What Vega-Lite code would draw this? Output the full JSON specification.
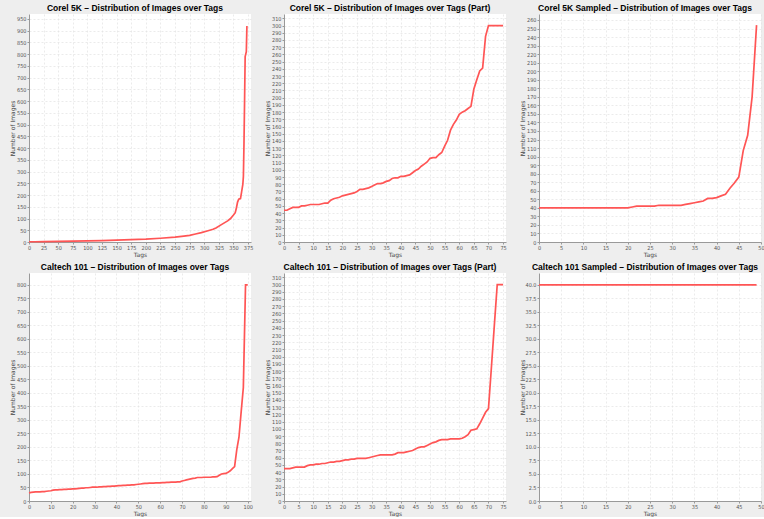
{
  "$schema": "https://vega.github.io/schema/vega-lite/v6.json",
  "background": "#eeeeee",
  "padding": {"left": 9, "top": 3, "right": 0, "bottom": 0},
  "config": {
    "view": {"fill": "white", "stroke": null},
    "font": "Liberation Sans",
    "title": {"font": "Liberation Sans", "fontSize": 8.5, "fontWeight": "bold", "color": "#000000", "offset": 2, "dx": -5},
    "axis": {
      "labelFont": "Liberation Sans Narrow, DejaVu Sans Condensed, Liberation Sans", "labelFontSize": 5.5, "labelColor": "#555555",
      "titleFont": "DejaVu Sans", "titleFontSize": 6, "titleFontWeight": "normal", "titleColor": "#444444",
      "domainColor": "#999999", "tickColor": "#999999", "tickSize": 2, "labelPadding": 1,
      "gridColor": "#e2e2e2", "gridDash": [2, 2], "gridWidth": 0.7,
      "labelFlush": false, "labelOverlap": false
    },
    "axisY": {"titlePadding": 2, "minExtent": 12, "maxExtent": 12},
    "axisX": {"titlePadding": 1},
    "line": {"color": "#ff5555", "strokeWidth": 1.7}
  },
  "datasets": {
    "corel": [
      {"tag": 0, "images": 1}, {"tag": 10, "images": 1}, {"tag": 25, "images": 2}, {"tag": 50, "images": 3},
      {"tag": 75, "images": 4}, {"tag": 100, "images": 5}, {"tag": 125, "images": 6}, {"tag": 150, "images": 8},
      {"tag": 175, "images": 10}, {"tag": 200, "images": 12}, {"tag": 225, "images": 16}, {"tag": 250, "images": 21},
      {"tag": 265, "images": 25}, {"tag": 275, "images": 28}, {"tag": 285, "images": 34}, {"tag": 295, "images": 40},
      {"tag": 305, "images": 47}, {"tag": 315, "images": 54}, {"tag": 320, "images": 60}, {"tag": 330, "images": 75},
      {"tag": 340, "images": 90}, {"tag": 345, "images": 100}, {"tag": 350, "images": 115}, {"tag": 353, "images": 125},
      {"tag": 355, "images": 145}, {"tag": 357, "images": 170}, {"tag": 359, "images": 182}, {"tag": 362, "images": 185},
      {"tag": 364, "images": 215}, {"tag": 366, "images": 245}, {"tag": 367, "images": 280}, {"tag": 368, "images": 420},
      {"tag": 369, "images": 600}, {"tag": 370, "images": 790}, {"tag": 371, "images": 800}, {"tag": 372, "images": 810},
      {"tag": 373, "images": 920}
    ],
    "corelPart": [
      {"tag": 0, "images": 44}, {"tag": 1, "images": 44}, {"tag": 2, "images": 46}, {"tag": 3, "images": 48},
      {"tag": 4, "images": 48}, {"tag": 5, "images": 48}, {"tag": 6, "images": 50}, {"tag": 7, "images": 50},
      {"tag": 8, "images": 51}, {"tag": 9, "images": 52}, {"tag": 10, "images": 52}, {"tag": 11, "images": 52},
      {"tag": 12, "images": 52}, {"tag": 13, "images": 53}, {"tag": 14, "images": 54}, {"tag": 15, "images": 54},
      {"tag": 16, "images": 58}, {"tag": 17, "images": 60}, {"tag": 18, "images": 61}, {"tag": 19, "images": 62},
      {"tag": 20, "images": 64}, {"tag": 21, "images": 65}, {"tag": 22, "images": 66}, {"tag": 23, "images": 67},
      {"tag": 24, "images": 68}, {"tag": 25, "images": 70}, {"tag": 26, "images": 73}, {"tag": 27, "images": 73},
      {"tag": 28, "images": 74}, {"tag": 29, "images": 75}, {"tag": 30, "images": 77}, {"tag": 31, "images": 79},
      {"tag": 32, "images": 81}, {"tag": 33, "images": 81}, {"tag": 34, "images": 82}, {"tag": 35, "images": 84},
      {"tag": 36, "images": 85}, {"tag": 37, "images": 88}, {"tag": 38, "images": 89}, {"tag": 39, "images": 89},
      {"tag": 40, "images": 91}, {"tag": 41, "images": 91}, {"tag": 42, "images": 92}, {"tag": 43, "images": 93},
      {"tag": 44, "images": 96}, {"tag": 45, "images": 99}, {"tag": 46, "images": 101}, {"tag": 47, "images": 105},
      {"tag": 48, "images": 108}, {"tag": 49, "images": 111}, {"tag": 50, "images": 116}, {"tag": 51, "images": 117},
      {"tag": 52, "images": 117}, {"tag": 53, "images": 121}, {"tag": 54, "images": 124}, {"tag": 55, "images": 133},
      {"tag": 56, "images": 141}, {"tag": 57, "images": 155}, {"tag": 58, "images": 163}, {"tag": 59, "images": 169},
      {"tag": 60, "images": 177}, {"tag": 61, "images": 180}, {"tag": 62, "images": 182}, {"tag": 63, "images": 185},
      {"tag": 64, "images": 188}, {"tag": 65, "images": 212}, {"tag": 66, "images": 225}, {"tag": 67, "images": 237},
      {"tag": 68, "images": 241}, {"tag": 69, "images": 285}, {"tag": 70, "images": 300}, {"tag": 71, "images": 300},
      {"tag": 72, "images": 300}, {"tag": 73, "images": 300}, {"tag": 74, "images": 300}, {"tag": 75, "images": 300}
    ],
    "corelSampled": [
      {"tag": 0, "images": 40}, {"tag": 1, "images": 40}, {"tag": 2, "images": 40}, {"tag": 3, "images": 40},
      {"tag": 4, "images": 40}, {"tag": 5, "images": 40}, {"tag": 6, "images": 40}, {"tag": 7, "images": 40},
      {"tag": 8, "images": 40}, {"tag": 9, "images": 40}, {"tag": 10, "images": 40}, {"tag": 11, "images": 40},
      {"tag": 12, "images": 40}, {"tag": 13, "images": 40}, {"tag": 14, "images": 40}, {"tag": 15, "images": 40},
      {"tag": 16, "images": 40}, {"tag": 17, "images": 40}, {"tag": 18, "images": 40}, {"tag": 19, "images": 40},
      {"tag": 20, "images": 40}, {"tag": 21, "images": 41}, {"tag": 22, "images": 42}, {"tag": 23, "images": 42},
      {"tag": 24, "images": 42}, {"tag": 25, "images": 42}, {"tag": 26, "images": 42}, {"tag": 27, "images": 43},
      {"tag": 28, "images": 43}, {"tag": 29, "images": 43}, {"tag": 30, "images": 43}, {"tag": 31, "images": 43},
      {"tag": 32, "images": 43}, {"tag": 33, "images": 44}, {"tag": 34, "images": 45}, {"tag": 35, "images": 46},
      {"tag": 36, "images": 47}, {"tag": 37, "images": 48}, {"tag": 38, "images": 51}, {"tag": 39, "images": 51},
      {"tag": 40, "images": 52}, {"tag": 41, "images": 54}, {"tag": 42, "images": 56}, {"tag": 43, "images": 63},
      {"tag": 44, "images": 69}, {"tag": 45, "images": 76}, {"tag": 46, "images": 107}, {"tag": 47, "images": 125},
      {"tag": 48, "images": 170}, {"tag": 49, "images": 254}
    ],
    "caltech": [
      {"tag": 0, "images": 30}, {"tag": 1, "images": 32}, {"tag": 2, "images": 33}, {"tag": 3, "images": 34},
      {"tag": 4, "images": 34}, {"tag": 5, "images": 34}, {"tag": 6, "images": 35}, {"tag": 7, "images": 35},
      {"tag": 8, "images": 36}, {"tag": 9, "images": 37}, {"tag": 10, "images": 38}, {"tag": 11, "images": 40},
      {"tag": 12, "images": 41}, {"tag": 13, "images": 41}, {"tag": 14, "images": 42}, {"tag": 15, "images": 42},
      {"tag": 16, "images": 43}, {"tag": 17, "images": 43}, {"tag": 18, "images": 44}, {"tag": 19, "images": 44},
      {"tag": 20, "images": 45}, {"tag": 21, "images": 45}, {"tag": 22, "images": 46}, {"tag": 23, "images": 47},
      {"tag": 24, "images": 48}, {"tag": 25, "images": 48}, {"tag": 26, "images": 49}, {"tag": 27, "images": 49},
      {"tag": 28, "images": 50}, {"tag": 29, "images": 51}, {"tag": 30, "images": 51}, {"tag": 31, "images": 51},
      {"tag": 32, "images": 52}, {"tag": 33, "images": 52}, {"tag": 34, "images": 53}, {"tag": 35, "images": 53},
      {"tag": 36, "images": 54}, {"tag": 37, "images": 54}, {"tag": 38, "images": 55}, {"tag": 39, "images": 55},
      {"tag": 40, "images": 56}, {"tag": 41, "images": 57}, {"tag": 42, "images": 57}, {"tag": 43, "images": 58},
      {"tag": 44, "images": 58}, {"tag": 45, "images": 59}, {"tag": 46, "images": 59}, {"tag": 47, "images": 60},
      {"tag": 48, "images": 60}, {"tag": 49, "images": 61}, {"tag": 50, "images": 62}, {"tag": 51, "images": 63},
      {"tag": 52, "images": 64}, {"tag": 53, "images": 65}, {"tag": 54, "images": 65}, {"tag": 55, "images": 66},
      {"tag": 56, "images": 66}, {"tag": 57, "images": 66}, {"tag": 58, "images": 67}, {"tag": 59, "images": 67},
      {"tag": 60, "images": 67}, {"tag": 61, "images": 68}, {"tag": 62, "images": 68}, {"tag": 63, "images": 69},
      {"tag": 64, "images": 69}, {"tag": 65, "images": 70}, {"tag": 66, "images": 70}, {"tag": 67, "images": 70},
      {"tag": 68, "images": 71}, {"tag": 69, "images": 71}, {"tag": 70, "images": 74}, {"tag": 71, "images": 76},
      {"tag": 72, "images": 78}, {"tag": 73, "images": 80}, {"tag": 74, "images": 82}, {"tag": 75, "images": 84},
      {"tag": 76, "images": 85}, {"tag": 77, "images": 87}, {"tag": 78, "images": 87}, {"tag": 79, "images": 87},
      {"tag": 80, "images": 88}, {"tag": 81, "images": 88}, {"tag": 82, "images": 88}, {"tag": 83, "images": 88},
      {"tag": 84, "images": 89}, {"tag": 85, "images": 89}, {"tag": 86, "images": 90}, {"tag": 87, "images": 95},
      {"tag": 88, "images": 100}, {"tag": 89, "images": 101}, {"tag": 90, "images": 102}, {"tag": 91, "images": 106},
      {"tag": 92, "images": 112}, {"tag": 93, "images": 120}, {"tag": 94, "images": 127}, {"tag": 95, "images": 190},
      {"tag": 96, "images": 236}, {"tag": 97, "images": 330}, {"tag": 98, "images": 420}, {"tag": 99, "images": 800},
      {"tag": 100, "images": 800}
    ],
    "caltechPart": [
      {"tag": 0, "images": 45}, {"tag": 1, "images": 45}, {"tag": 2, "images": 45}, {"tag": 3, "images": 46},
      {"tag": 4, "images": 47}, {"tag": 5, "images": 47}, {"tag": 6, "images": 47}, {"tag": 7, "images": 47},
      {"tag": 8, "images": 49}, {"tag": 9, "images": 50}, {"tag": 10, "images": 50}, {"tag": 11, "images": 51},
      {"tag": 12, "images": 51}, {"tag": 13, "images": 52}, {"tag": 14, "images": 52}, {"tag": 15, "images": 53},
      {"tag": 16, "images": 54}, {"tag": 17, "images": 54}, {"tag": 18, "images": 55}, {"tag": 19, "images": 55},
      {"tag": 20, "images": 56}, {"tag": 21, "images": 57}, {"tag": 22, "images": 57}, {"tag": 23, "images": 58},
      {"tag": 24, "images": 58}, {"tag": 25, "images": 59}, {"tag": 26, "images": 59}, {"tag": 27, "images": 59},
      {"tag": 28, "images": 59}, {"tag": 29, "images": 60}, {"tag": 30, "images": 61}, {"tag": 31, "images": 62},
      {"tag": 32, "images": 63}, {"tag": 33, "images": 64}, {"tag": 34, "images": 64}, {"tag": 35, "images": 64},
      {"tag": 36, "images": 64}, {"tag": 37, "images": 64}, {"tag": 38, "images": 65}, {"tag": 39, "images": 67},
      {"tag": 40, "images": 67}, {"tag": 41, "images": 67}, {"tag": 42, "images": 68}, {"tag": 43, "images": 69},
      {"tag": 44, "images": 70}, {"tag": 45, "images": 72}, {"tag": 46, "images": 74}, {"tag": 47, "images": 75},
      {"tag": 48, "images": 75}, {"tag": 49, "images": 77}, {"tag": 50, "images": 79}, {"tag": 51, "images": 81},
      {"tag": 52, "images": 82}, {"tag": 53, "images": 84}, {"tag": 54, "images": 85}, {"tag": 55, "images": 85},
      {"tag": 56, "images": 85}, {"tag": 57, "images": 86}, {"tag": 58, "images": 86}, {"tag": 59, "images": 86},
      {"tag": 60, "images": 86}, {"tag": 61, "images": 87}, {"tag": 62, "images": 89}, {"tag": 63, "images": 92},
      {"tag": 64, "images": 98}, {"tag": 65, "images": 99}, {"tag": 66, "images": 100}, {"tag": 67, "images": 107},
      {"tag": 68, "images": 115}, {"tag": 69, "images": 123}, {"tag": 70, "images": 128}, {"tag": 71, "images": 185},
      {"tag": 72, "images": 243}, {"tag": 73, "images": 300}, {"tag": 74, "images": 300}, {"tag": 75, "images": 300}
    ],
    "caltechSampled": [
      {"tag": 0, "images": 40}, {"tag": 1, "images": 40}, {"tag": 2, "images": 40}, {"tag": 3, "images": 40},
      {"tag": 4, "images": 40}, {"tag": 5, "images": 40}, {"tag": 6, "images": 40}, {"tag": 7, "images": 40},
      {"tag": 8, "images": 40}, {"tag": 9, "images": 40}, {"tag": 10, "images": 40}, {"tag": 11, "images": 40},
      {"tag": 12, "images": 40}, {"tag": 13, "images": 40}, {"tag": 14, "images": 40}, {"tag": 15, "images": 40},
      {"tag": 16, "images": 40}, {"tag": 17, "images": 40}, {"tag": 18, "images": 40}, {"tag": 19, "images": 40},
      {"tag": 20, "images": 40}, {"tag": 21, "images": 40}, {"tag": 22, "images": 40}, {"tag": 23, "images": 40},
      {"tag": 24, "images": 40}, {"tag": 25, "images": 40}, {"tag": 26, "images": 40}, {"tag": 27, "images": 40},
      {"tag": 28, "images": 40}, {"tag": 29, "images": 40}, {"tag": 30, "images": 40}, {"tag": 31, "images": 40},
      {"tag": 32, "images": 40}, {"tag": 33, "images": 40}, {"tag": 34, "images": 40}, {"tag": 35, "images": 40},
      {"tag": 36, "images": 40}, {"tag": 37, "images": 40}, {"tag": 38, "images": 40}, {"tag": 39, "images": 40},
      {"tag": 40, "images": 40}, {"tag": 41, "images": 40}, {"tag": 42, "images": 40}, {"tag": 43, "images": 40},
      {"tag": 44, "images": 40}, {"tag": 45, "images": 40}, {"tag": 46, "images": 40}, {"tag": 47, "images": 40},
      {"tag": 48, "images": 40}, {"tag": 49, "images": 40}
    ]
  },
  "columns": 3,
  "bounds": "flush",
  "spacing": {"column": 33, "row": 31},
  "concat": [
    {
      "title": "Corel 5K – Distribution of Images over Tags",
      "width": 222, "height": 228,
      "data": {"name": "corel"},
      "mark": "line",
      "encoding": {
        "x": {"field": "tag", "type": "quantitative", "scale": {"domain": [0, 380], "nice": false},
              "axis": {"title": "Tags", "values": [0, 25, 50, 75, 100, 125, 150, 175, 200, 225, 250, 275, 300, 325, 350, 375]}},
        "y": {"field": "images", "type": "quantitative", "scale": {"domain": [0, 971], "nice": false},
              "axis": {"title": "Number of Images", "values": [0, 50, 100, 150, 200, 250, 300, 350, 400, 450, 500, 550, 600, 650, 700, 750, 800, 850, 900, 950]}}
      }
    },
    {
      "title": "Corel 5K – Distribution of Images over Tags (Part)",
      "width": 222, "height": 228,
      "data": {"name": "corelPart"},
      "mark": "line",
      "encoding": {
        "x": {"field": "tag", "type": "quantitative", "scale": {"domain": [0, 76], "nice": false},
              "axis": {"title": "Tags", "values": [0, 5, 10, 15, 20, 25, 30, 35, 40, 45, 50, 55, 60, 65, 70, 75]}},
        "y": {"field": "images", "type": "quantitative", "scale": {"domain": [0, 316], "nice": false},
              "axis": {"title": "Number of Images", "values": [0, 10, 20, 30, 40, 50, 60, 70, 80, 90, 100, 110, 120, 130, 140, 150, 160, 170, 180, 190, 200, 210, 220, 230, 240, 250, 260, 270, 280, 290, 300, 310]}}
      }
    },
    {
      "title": "Corel 5K Sampled – Distribution of Images over Tags",
      "width": 222, "height": 228,
      "data": {"name": "corelSampled"},
      "mark": "line",
      "encoding": {
        "x": {"field": "tag", "type": "quantitative", "scale": {"domain": [0, 50], "nice": false},
              "axis": {"title": "Tags", "values": [0, 5, 10, 15, 20, 25, 30, 35, 40, 45, 50]}},
        "y": {"field": "images", "type": "quantitative", "scale": {"domain": [0, 267], "nice": false},
              "axis": {"title": "Number of Images", "values": [0, 10, 20, 30, 40, 50, 60, 70, 80, 90, 100, 110, 120, 130, 140, 150, 160, 170, 180, 190, 200, 210, 220, 230, 240, 250, 260]}}
      }
    },
    {
      "title": "Caltech 101 – Distribution of Images over Tags",
      "width": 222, "height": 228,
      "data": {"name": "caltech"},
      "mark": "line",
      "encoding": {
        "x": {"field": "tag", "type": "quantitative", "scale": {"domain": [0, 101.5], "nice": false},
              "axis": {"title": "Tags", "values": [0, 10, 20, 30, 40, 50, 60, 70, 80, 90, 100]}},
        "y": {"field": "images", "type": "quantitative", "scale": {"domain": [0, 844], "nice": false},
              "axis": {"title": "Number of Images", "values": [0, 50, 100, 150, 200, 250, 300, 350, 400, 450, 500, 550, 600, 650, 700, 750, 800]}}
      }
    },
    {
      "title": "Caltech 101 – Distribution of Images over Tags (Part)",
      "width": 222, "height": 228,
      "data": {"name": "caltechPart"},
      "mark": "line",
      "encoding": {
        "x": {"field": "tag", "type": "quantitative", "scale": {"domain": [0, 76], "nice": false},
              "axis": {"title": "Tags", "values": [0, 5, 10, 15, 20, 25, 30, 35, 40, 45, 50, 55, 60, 65, 70, 75]}},
        "y": {"field": "images", "type": "quantitative", "scale": {"domain": [0, 316], "nice": false},
              "axis": {"title": "Number of Images", "values": [0, 10, 20, 30, 40, 50, 60, 70, 80, 90, 100, 110, 120, 130, 140, 150, 160, 170, 180, 190, 200, 210, 220, 230, 240, 250, 260, 270, 280, 290, 300, 310]}}
      }
    },
    {
      "title": "Caltech 101 Sampled – Distribution of Images over Tags",
      "width": 222, "height": 228,
      "data": {"name": "caltechSampled"},
      "mark": "line",
      "encoding": {
        "x": {"field": "tag", "type": "quantitative", "scale": {"domain": [0, 50], "nice": false},
              "axis": {"title": "Tags", "values": [0, 5, 10, 15, 20, 25, 30, 35, 40, 45, 50]}},
        "y": {"field": "images", "type": "quantitative", "scale": {"domain": [0, 42.2], "nice": false},
              "axis": {"title": "Number of Images", "format": ".1f", "values": [0, 2.5, 5, 7.5, 10, 12.5, 15, 17.5, 20, 22.5, 25, 27.5, 30, 32.5, 35, 37.5, 40]}}
      }
    }
  ]
}
